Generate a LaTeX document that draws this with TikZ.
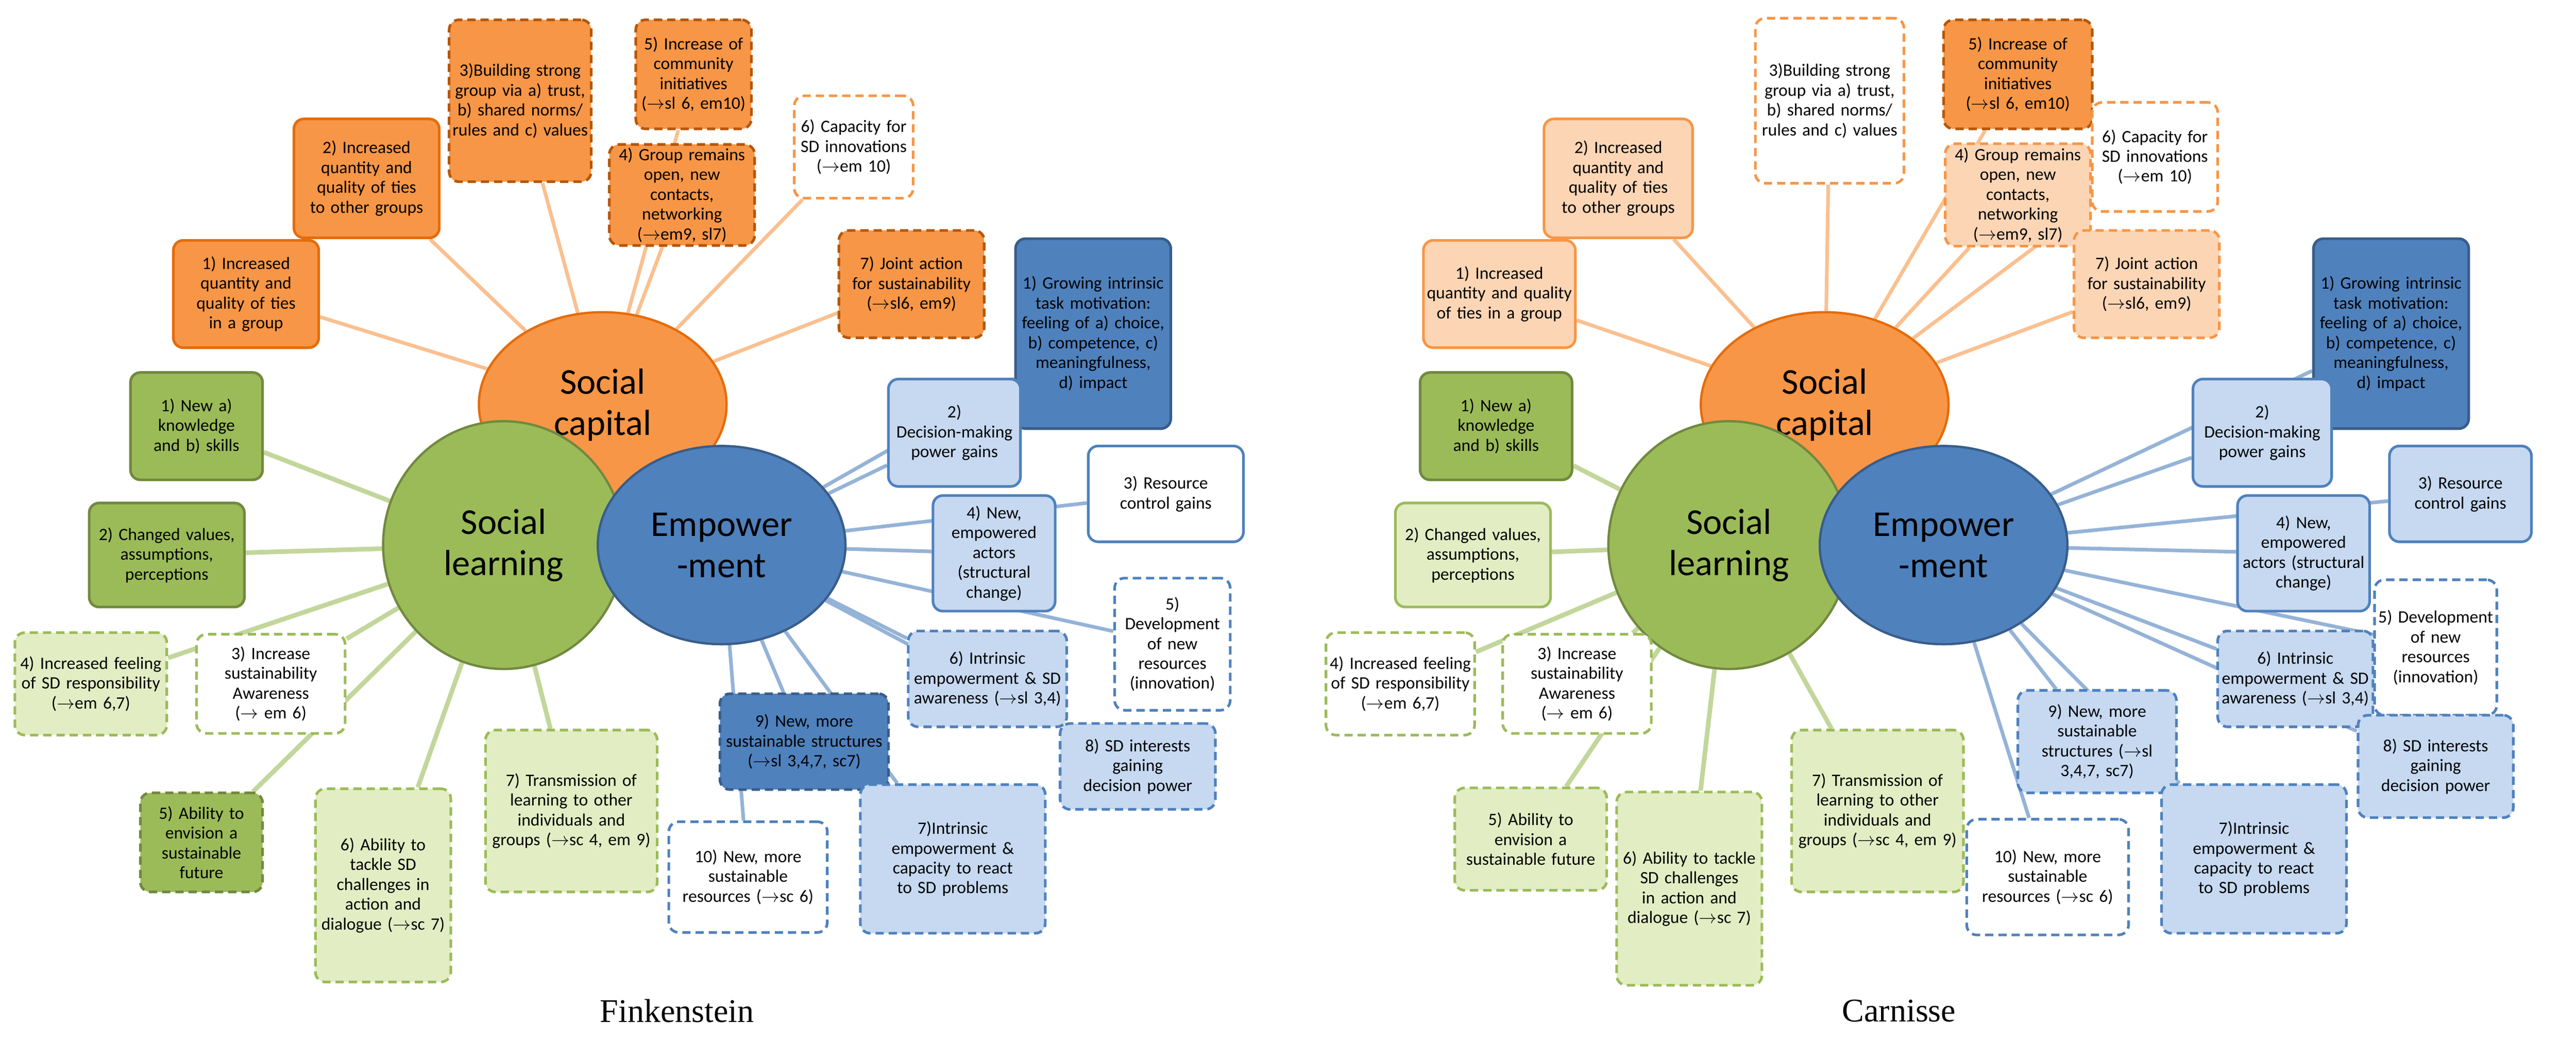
\documentclass[tikz,border=0pt]{standalone}
\usepackage{fontspec}
\setmainfont{Carlito}
\newfontfamily\ttlfont{Liberation Serif}
\usetikzlibrary{shapes.geometric}
\pgfdeclarelayer{bg}\pgfsetlayers{bg,main}
\definecolor{oF}{HTML}{F79646}\definecolor{oB}{HTML}{E46C0A}\definecolor{oD}{HTML}{B65708}
\definecolor{oL}{HTML}{FCD5B5}\definecolor{oLine}{HTML}{FAC090}
\definecolor{bF}{HTML}{4F81BD}\definecolor{bB}{HTML}{385D8A}\definecolor{bL}{HTML}{C6D9F1}
\definecolor{bLine}{HTML}{95B3D7}
\definecolor{gF}{HTML}{9BBB59}\definecolor{gB}{HTML}{71893F}\definecolor{gL}{HTML}{E2EDC4}
\definecolor{gLine}{HTML}{C3D69B}
\newcommand\myar{\ensuremath{\rightarrow}}
\newcommand\bx[6]{\node[#1,text width=#4pt,minimum height=#5pt] (#2) at #3 {#6};}
\tikzset{
 box/.style={rounded corners=6pt,line width=1.6pt,inner sep=2pt,align=center,font=\fontsize{10.5}{12}\selectfont},
 dsh/.style={dash pattern=on 5pt off 3pt},
 osol/.style={box,fill=oF,draw=oB},
 odsh/.style={box,dsh,fill=oF,draw=oD},
 olt/.style={box,fill=oL,draw=oF},
 oltd/.style={box,dsh,fill=oL,draw=oF},
 owd/.style={box,dsh,fill=white,draw=oF},
 bdk/.style={box,fill=bF,draw=bB},
 bdkd/.style={box,dsh,fill=bF,draw=bB},
 blt/.style={box,fill=bL,draw=bF},
 bltd/.style={box,dsh,fill=bL,draw=bF},
 bw/.style={box,fill=white,draw=bF},
 bwd/.style={box,dsh,fill=white,draw=bF},
 gsol/.style={box,fill=gF,draw=gB},
 gsold/.style={box,dsh,fill=gF,draw=gB},
 glt/.style={box,fill=gL,draw=gF},
 gltd/.style={box,dsh,fill=gL,draw=gF},
 gwd/.style={box,dsh,fill=white,draw=gF},
 ell/.style={ellipse,line width=1.4pt,align=center,inner sep=0pt,font=\fontsize{22}{25}\selectfont},
 oline/.style={oLine,line width=2.2pt},
 bline/.style={bLine,line width=2.2pt},
 gline/.style={gLine,line width=2.8pt},
 ttl/.style={font=\ttlfont\fontsize{20}{22}\selectfont}
}
\begin{document}
\hyphenpenalty=10000 \exhyphenpenalty=10000
\begin{tikzpicture}[x=1pt,y=-1pt]
\useasboundingbox (0,0) rectangle (1560,630);
% ---------- LEFT ----------
\node[ell,fill=oF,draw=oB,minimum width=150pt,minimum height=112pt] (Lsc) at (365,245) {Social\\capital};
\node[ell,fill=gF,draw=gB,minimum width=146pt,minimum height=150pt] (Lsl) at (305,330) {Social\\learning};
\node[ell,fill=bF,draw=bB,minimum width=150pt,minimum height=120pt] (Lem) at (437,330) {Empower\\-ment};
\bx{osol}{Lo1}{(149,178)}{84}{65}{1) Increased quantity and quality of ties in a group}
\bx{osol}{Lo2}{(222,108)}{84}{72}{2) Increased quantity and quality of ties to other groups}
\bx{odsh}{Lo3}{(315,61)}{82}{98}{3)Building strong group via a) trust, b) shared norms/ rules and c) values}
\bx{odsh}{Lo5}{(420,45)}{66}{66}{5) Increase of community initiatives (\myar sl 6, em10)}
\bx{odsh}{Lo4}{(413,118)}{84}{60}{4) Group remains open, new contacts, networking (\myar em9, sl7)}
\bx{owd}{Lo6}{(517,89)}{68}{62}{6) Capacity for SD innovations (\myar em 10)}
\bx{odsh}{Lo7}{(552,172)}{84}{65}{7) Joint action for sustainability (\myar sl6, em9)}
\bx{bdk}{Lb1}{(662,202)}{90}{115}{1) Growing intrinsic task motivation: feeling of a) choice, b) competence, c) meaningfulness, d) impact}
\bx{blt}{Lb2}{(578,262)}{76}{65}{2) Decision-making power gains}
\bx{bw}{Lb3}{(706,299)}{90}{58}{3) Resource control gains}
\bx{blt}{Lb4}{(602,335)}{70}{70}{4) New, empowered actors (structural change)}
\bx{bwd}{Lb5}{(710,390)}{66}{80}{5) Development of new resources (innovation)}
\bx{bltd}{Lb6}{(598,411)}{92}{58}{6) Intrinsic empowerment \& SD awareness (\myar sl 3,4)}
\bx{bltd}{Lb8}{(689,464)}{90}{52}{8) SD interests gaining decision power}
\bx{bdkd}{Lb9}{(487,449)}{98}{58}{9) New, more sustainable structures (\myar sl 3,4,7, sc7)}
\bx{bltd}{Lb7}{(577,520)}{108}{90}{7)Intrinsic empowerment \& capacity to react to SD problems}
\bx{bwd}{Lb10}{(453,531)}{92}{67}{10) New, more sustainable resources (\myar sc 6)}
\bx{gsol}{Lg1}{(119,258)}{76}{65}{1) New a) knowledge and b) skills}
\bx{gsol}{Lg2}{(101,336)}{90}{63}{2) Changed values, assumptions, perceptions}
\bx{gltd}{Lg4}{(55,414)}{88}{62}{4) Increased feeling of SD responsibility (\myar em 6,7)}
\bx{gwd}{Lg3}{(164,414)}{86}{60}{3) Increase sustainability Awareness (\myar{} em 6)}
\bx{gsold}{Lg5}{(122,510)}{70}{60}{5) Ability to envision a sustainable future}
\bx{gltd}{Lg6}{(232,536)}{78}{117}{6) Ability to tackle SD challenges in action and dialogue (\myar sc 7)}
\bx{gltd}{Lg7}{(346,491)}{100}{98}{7) Transmission of learning to other individuals and groups (\myar sc 4, em 9)}
\node[ttl] (Lt) at (410,612) {Finkenstein};
% ---------- RIGHT ----------
\node[ell,fill=oF,draw=oB,minimum width=150pt,minimum height=112pt] (Rsc) at (1105,245) {Social\\capital};
\node[ell,fill=gF,draw=gB,minimum width=146pt,minimum height=150pt] (Rsl) at (1047,330) {Social\\learning};
\node[ell,fill=bF,draw=bB,minimum width=150pt,minimum height=120pt] (Rem) at (1177,330) {Empower\\-ment};
\bx{olt}{Ro1}{(908,178)}{88}{65}{1) Increased quantity and quality of ties in a group}
\bx{olt}{Ro2}{(980,108)}{86}{72}{2) Increased quantity and quality of ties to other groups}
\bx{owd}{Ro3}{(1108,61)}{86}{100}{3)Building strong group via a) trust, b) shared norms/ rules and c) values}
\bx{odsh}{Ro5}{(1222,45)}{86}{66}{5) Increase of community initiatives (\myar sl 6, em10)}
\bx{oltd}{Ro4}{(1222,118)}{84}{62}{4) Group remains open, new contacts, networking (\myar em9, sl7)}
\bx{owd}{Ro6}{(1305,95)}{72}{66}{6) Capacity for SD innovations (\myar em 10)}
\bx{oltd}{Ro7}{(1300,172)}{84}{65}{7) Joint action for sustainability (\myar sl6, em9)}
\bx{bdk}{Rb1}{(1448,202)}{90}{115}{1) Growing intrinsic task motivation: feeling of a) choice, b) competence, c) meaningfulness, d) impact}
\bx{blt}{Rb2}{(1370,262)}{80}{65}{2) Decision-making power gains}
\bx{blt}{Rb3}{(1490,299)}{82}{58}{3) Resource control gains}
\bx{blt}{Rb4}{(1395,335)}{76}{70}{4) New, empowered actors (structural change)}
\bx{bwd}{Rb5}{(1475,392)}{70}{82}{5) Development of new resources (innovation)}
\bx{bltd}{Rb6}{(1390,411)}{90}{58}{6) Intrinsic empowerment \& SD awareness (\myar sl 3,4)}
\bx{bltd}{Rb8}{(1475,464)}{90}{62}{8) SD interests gaining decision power}
\bx{bltd}{Rb9}{(1270,449)}{92}{62}{9) New, more sustainable structures (\myar sl 3,4,7, sc7)}
\bx{bltd}{Rb7}{(1365,520)}{108}{90}{7)Intrinsic empowerment \& capacity to react to SD problems}
\bx{bwd}{Rb10}{(1240,531)}{94}{70}{10) New, more sustainable resources (\myar sc 6)}
\bx{gsol}{Rg1}{(906,258)}{88}{65}{1) New a) knowledge and b) skills}
\bx{glt}{Rg2}{(892,336)}{90}{63}{2) Changed values, assumptions, perceptions}
\bx{gwd}{Rg4}{(848,414)}{86}{62}{4) Increased feeling of SD responsibility (\myar em 6,7)}
\bx{gwd}{Rg3}{(955,414)}{86}{60}{3) Increase sustainability Awareness (\myar{} em 6)}
\bx{gltd}{Rg5}{(927,508)}{88}{62}{5) Ability to envision a sustainable future}
\bx{gltd}{Rg6}{(1023,538)}{84}{117}{6) Ability to tackle SD challenges in action and dialogue (\myar sc 7)}
\bx{gltd}{Rg7}{(1137,491)}{100}{98}{7) Transmission of learning to other individuals and groups (\myar sc 4, em 9)}
\node[ttl] (Rt) at (1150,612) {Carnisse};
% ---------- connectors ----------
\begin{pgfonlayer}{bg}
\foreach \p in {L,R}{
 \foreach \i in {1,...,7} \draw[oline] (\p sc) -- (\p o\i);
 \foreach \i in {1,...,10} \draw[bline] (\p em) -- (\p b\i);
 \foreach \i in {1,...,7} \draw[gline] (\p sl) -- (\p g\i);
}
\end{pgfonlayer}
\end{tikzpicture}
\end{document}
